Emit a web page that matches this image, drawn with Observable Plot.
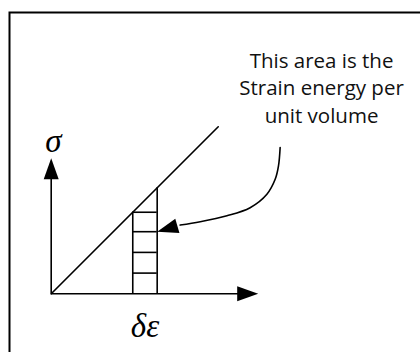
<!DOCTYPE html>
<html>
<head>
<meta charset="utf-8">
<script src="https://cdn.jsdelivr.net/npm/d3@7"></script>
<script src="https://cdn.jsdelivr.net/npm/@observablehq/plot@0.6"></script>
<style>
  html, body { margin: 0; padding: 0; background: #fff; overflow: hidden; }
</style>
</head>
<body>
<div id="chart"></div>
<script>
// Stress–strain sketch: strain ε along x, stress σ along y (same unit length on both)
const strainAxisEnd = 10;
const stressAxisEnd = 6.55;

// Linear elastic line σ = E·ε
const modulus = 1;
const lineStrainEnd = 8.07;

// Thin strip of width δε under the line, divided by horizontal bars
const stripStrain = [3.94, 5.12];
const stripLevels = [1, 2, 3];

// Curved pointer from the note down to the strip
const pointerStrain = [11.06, 10.98, 10.82, 10.42, 9.61, 8.49, 7.2, 6.23];
const pointerStress = [7.07, 6.18, 5.53, 4.81, 4.16, 3.77, 3.48, 3.32];

// Labels
const noteLines = ["This area is the", "Strain energy per", "unit volume"];
const stressLabel = "σ";
const strainLabel = "δε";

// Filled arrowhead with its tip at the symbol origin, pointing to +x
const arrowHead = {
  draw(context) {
    context.moveTo(0, 0);
    context.lineTo(-21, -7.5);
    context.lineTo(-21, 7.5);
    context.closePath();
  }
};

const pointer = pointerStrain.map((x, i) => ({x, y: pointerStress[i]}));
const pointerTip = {x: stripStrain[1], y: stripLevels[2]};
const last = pointer[pointer.length - 1];
const pointerAngle = Math.atan2(last.y - pointerTip.y, pointerTip.x - last.x) * 180 / Math.PI;

const heads = [
  {x: strainAxisEnd, y: 0, angle: 0},
  {x: 0, y: stressAxisEnd, angle: -90},
  {x: pointerTip.x, y: pointerTip.y, angle: pointerAngle}
];

const elasticLine = [{x: 0, y: 0}, {x: lineStrainEnd, y: modulus * lineStrainEnd}];
const stripTop = modulus * stripStrain[0];

const labels = [
  {text: stressLabel, x: 0.1, y: 6.87},
  {text: strainLabel, x: (stripStrain[0] + stripStrain[1]) / 2, y: -2.1}
];

const ink = "#000";
const lw = 1.6;

const chart = Plot.plot({
  width: 420,
  height: 352,
  marginLeft: 9,
  marginTop: 12,
  marginRight: 0,
  marginBottom: 0,
  x: {domain: [0, 10], range: [50.7, 257.7], axis: null},
  y: {domain: [0, 10], range: [293.3, 86.3], axis: null},
  marks: [
    Plot.frame({stroke: ink, strokeWidth: 2, insetRight: -20, insetBottom: -20}),
    // axes
    Plot.ruleY([0], {x1: 0, x2: strainAxisEnd - 0.5, stroke: ink, strokeWidth: lw}),
    Plot.ruleX([0], {y1: 0, y2: stressAxisEnd - 0.5, stroke: ink, strokeWidth: lw}),
    // elastic line
    Plot.line(elasticLine, {x: "x", y: "y", stroke: ink, strokeWidth: lw}),
    // strip sides and bars
    Plot.ruleX(stripStrain, {x: d => d, y1: 0, y2: d => modulus * d, stroke: ink, strokeWidth: lw}),
    Plot.ruleY([...stripLevels, stripTop], {y: d => d, x1: stripStrain[0], x2: stripStrain[1], stroke: ink, strokeWidth: lw}),
    // pointer curve
    Plot.line(pointer, {x: "x", y: "y", curve: "catmull-rom", stroke: ink, strokeWidth: lw}),
    // arrowheads
    Plot.dot(heads, {x: "x", y: "y", rotate: "angle", symbol: arrowHead, fill: ink, stroke: null, r: 6}),
    // note text
    Plot.text([noteLines.join("\n")], {
      x: 13.06, y: 11.87, lineAnchor: "top", textAnchor: "middle",
      fontFamily: "Open Sans", fontSize: 20.5, lineHeight: 1.35, fill: "#111"
    }),
    // symbol labels
    Plot.text(labels, {
      x: "x", y: "y", text: "text", lineAnchor: "bottom", textAnchor: "middle",
      fontFamily: "Liberation Serif", fontStyle: "italic", fontSize: 33, fill: ink
    })
  ]
});

document.getElementById("chart").appendChild(chart);
</script>
</body>
</html>
